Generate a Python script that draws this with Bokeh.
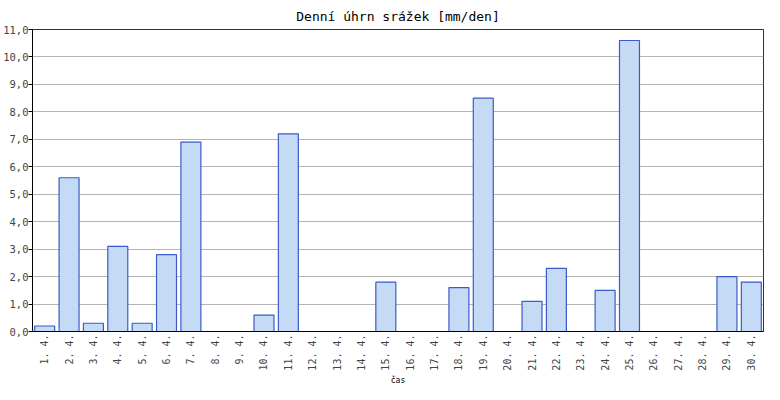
import math
from bokeh.plotting import figure
from bokeh.models import FactorRange, Range1d, FixedTicker, Title
from bokeh.embed import file_html
from bokeh.resources import INLINE

days = [f"{d}. 4." for d in range(1, 31)]
rain = [0.2, 5.6, 0.3, 3.1, 0.3, 2.8, 6.9, 0.0, 0.0, 0.6,
        7.2, 0.0, 0.0, 0.0, 1.8, 0.0, 0.0, 1.6, 8.5, 0.0,
        1.1, 2.3, 0.0, 1.5, 10.6, 0.0, 0.0, 0.0, 2.0, 1.8]
y_ticks = list(range(0, 12))
y_labels = {t: f"{t},0" for t in y_ticks}

FONT = "DejaVu Sans Mono"

p = figure(width=764, height=384, output_backend="svg", toolbar_location=None,
           x_range=FactorRange(factors=days, range_padding=0),
           y_range=Range1d(0, 11), title=None,
           min_border_left=26, min_border_right=1, min_border_top=0, min_border_bottom=0)

t = Title(text="Denní úhrn srážek [mm/den]", align="center", text_font=FONT,
          text_font_size="13px", text_font_style="normal", text_color="#000000",
          standoff=12, offset=0)
p.add_layout(t, "above")

cas = Title(text="čas", align="center", text_font=FONT, text_font_size="8px",
            text_font_style="normal", text_color="#000000", standoff=0,
            text_line_height=0.6)
p.add_layout(cas, "below")

p.vbar(x=days, top=rain, width=0.82, fill_color="#c4daf5", line_color="#3b5bc8",
       line_width=1.2)

p.xgrid.grid_line_color = None
p.ygrid.grid_line_color = "#b4b4b4"
p.ygrid.grid_line_width = 1
p.outline_line_color = "#333333"
p.outline_line_width = 1

p.yaxis.ticker = FixedTicker(ticks=y_ticks)
p.yaxis.major_label_overrides = y_labels
p.yaxis.minor_tick_line_color = None
p.yaxis.major_tick_out = 4
p.yaxis.major_tick_in = 0
p.yaxis.major_label_standoff = 0
p.yaxis.major_label_text_font = FONT
p.yaxis.major_label_text_font_size = "10.5px"
p.yaxis.axis_line_color = "#000000"
p.yaxis.major_tick_line_color = "#000000"

p.xaxis.major_label_orientation = math.pi / 2
p.xaxis.major_tick_line_color = None
p.xaxis.major_tick_out = 0
p.xaxis.major_label_standoff = 3
p.xaxis.major_label_text_font = FONT
p.xaxis.major_label_text_font_size = "10px"
p.xaxis.major_label_text_line_height = 1.0
p.xaxis.axis_line_color = "#000000"

open("out.html", "w").write(file_html(p, INLINE))
